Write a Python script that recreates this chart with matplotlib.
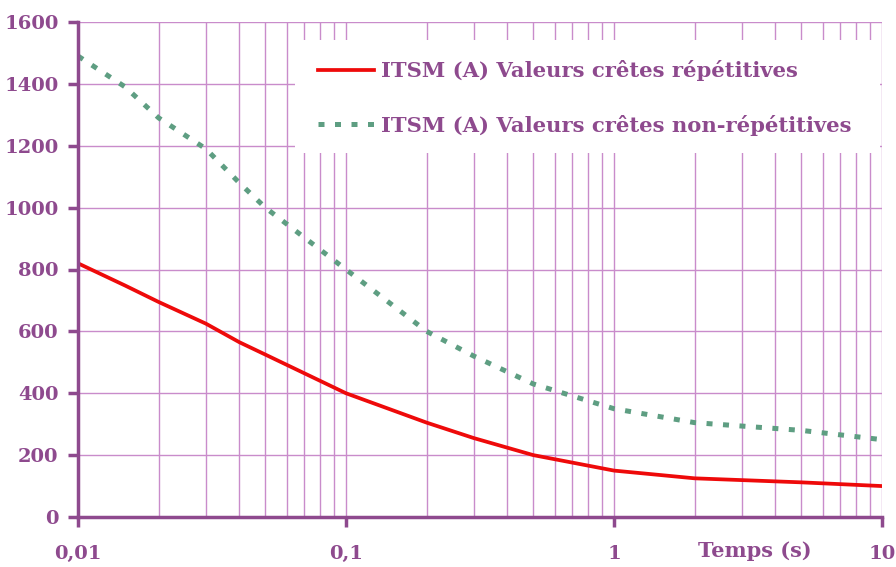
import matplotlib.pyplot as plt
from matplotlib.patches import Rectangle
from matplotlib.ticker import FixedLocator, LogLocator, NullFormatter

# values
temps = [0.01, 0.015, 0.02, 0.03, 0.04, 0.05, 0.1, 0.2, 0.3, 0.5, 1, 2, 5, 10]
itsm_rep = [820, 748, 695, 625, 565, 525, 400, 305, 255, 200, 150, 125, 112, 100]
itsm_nonrep = [1490, 1390, 1290, 1190, 1080, 1000, 800, 600, 520, 430, 350, 305, 280, 250]

x_ticks = [0.01, 0.1, 1, 10]
x_labels = ['0,01', '0,1', '1', '10']
y_ticks = [0, 200, 400, 600, 800, 1000, 1200, 1400, 1600]

purple = '#8e4a8e'
grid_col = '#c98ccb'
font = 'DejaVu Serif'

W, H = 896, 567
fig = plt.figure(figsize=(W / 100, H / 100), dpi=100)
ax = fig.add_axes([78 / W, 50 / H, 804 / W, 495 / H])

ax.plot(temps, itsm_rep, color='#ee0a0a', linewidth=2.7,
        label='ITSM (A) Valeurs crêtes répétitives')
ax.plot(temps, itsm_nonrep, color='#5e9e82', linewidth=3.6, dashes=(1.2, 2.1),
        label='ITSM (A) Valeurs crêtes non-répétitives')

ax.set_xscale('log')
ax.set_xlim(0.01, 10)
ax.set_ylim(0, 1600)

ax.xaxis.set_major_locator(FixedLocator(x_ticks))
ax.set_xticklabels(x_labels)
ax.xaxis.set_minor_locator(LogLocator(base=10, subs=range(2, 10)))
ax.xaxis.set_minor_formatter(NullFormatter())
ax.set_yticks(y_ticks)

ax.grid(True, which='both', axis='x', color=grid_col, linewidth=1.0)
ax.grid(True, which='major', axis='y', color=grid_col, linewidth=1.0)
ax.set_axisbelow(True)

for side in ['top', 'right']:
    ax.spines[side].set_visible(False)
for side in ['left', 'bottom']:
    ax.spines[side].set_color(purple)
    ax.spines[side].set_linewidth(2.5)

ax.tick_params(axis='both', which='major', color=purple, width=2.5, length=7,
               labelcolor=purple, labelsize=14)
ax.tick_params(axis='x', which='minor', length=0)
ax.tick_params(axis='x', which='major', pad=13)
ax.tick_params(axis='y', which='major', pad=7)
for lab in ax.get_xticklabels() + ax.get_yticklabels():
    lab.set_fontfamily(font)
    lab.set_fontweight('bold')

fig.text(755 / W, 1 - 551 / H, 'Temps (s)', color=purple, fontsize=15,
         fontweight='bold', family=font, ha='center', va='center')

# white box behind the legend, covering the grid
def ax_x(px):
    return (px - 78) / 804

def ax_y(py):
    return (517 - py) / 495

ax.add_patch(Rectangle((ax_x(295), ax_y(153)), ax_x(880) - ax_x(295),
                       ax_y(40) - ax_y(153), transform=ax.transAxes,
                       facecolor='white', edgecolor='none', zorder=2))

leg = ax.legend(loc='upper left', bbox_to_anchor=(ax_x(318), ax_y(60)),
                frameon=False, borderaxespad=0, borderpad=0,
                prop={'family': font, 'weight': 'bold', 'size': 15.2},
                labelspacing=1.6, handlelength=2.65, handletextpad=0.35)
leg.set_zorder(3)
for t in leg.get_texts():
    t.set_color(purple)

plt.savefig('out.png', dpi=100)
